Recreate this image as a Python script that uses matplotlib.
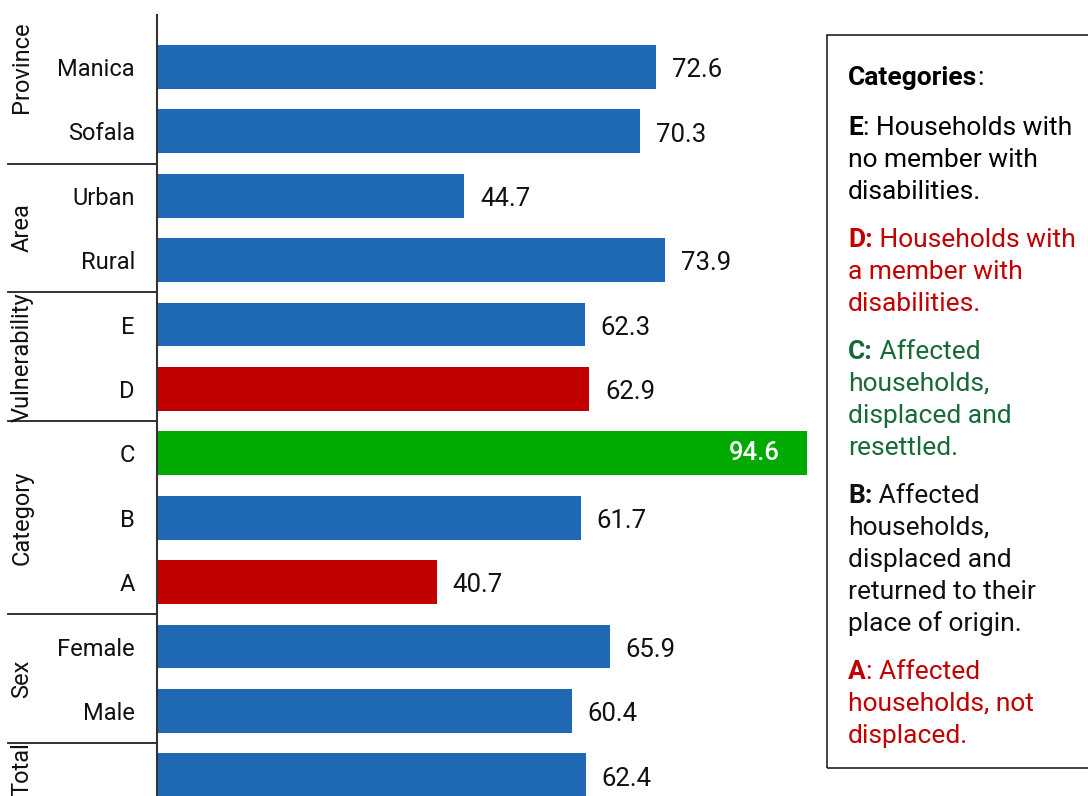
import matplotlib
matplotlib.use("Agg")
from matplotlib import pyplot as plt
from matplotlib.lines import Line2D
from matplotlib.patches import Rectangle
import matplotlib.transforms as mtransforms

plt.rcParams['font.family'] = ['Roboto', 'DejaVu Sans']

# data, top to bottom
labels = ['Manica', 'Sofala', 'Urban', 'Rural', 'E', 'D', 'C', 'B', 'A', 'Female', 'Male', '']
values = [72.6, 70.3, 44.7, 73.9, 62.3, 62.9, 94.6, 61.7, 40.7, 65.9, 60.4, 62.4]
bar_kind = ['n', 'n', 'n', 'n', 'n', 'r', 'g', 'n', 'r', 'n', 'n', 'n']
groups = ['Province', 'Area', 'Vulnerability', 'Category', 'Sex', 'Total']
group_first = [0, 2, 4, 6, 9, 11]
group_last = [1, 3, 5, 8, 10, 11]

BLUE = '#1f69b4'
RED = '#c00000'
GREEN = '#00aa00'
TXT_GREEN = '#17693a'
kind_color = {'n': BLUE, 'r': RED, 'g': GREEN}

W, H = 1088, 796
fig = plt.figure(figsize=(W / 100, H / 100), dpi=100)
ax = fig.add_axes([157 / W, 0, 650 / W, (796 - 15) / H])

ypos = list(range(len(labels)))
ax.barh(ypos, values, height=0.68, color=[kind_color[k] for k in bar_kind])
ax.set_xlim(0, 94.6)
ax.set_ylim(11.32, -0.807)
ax.set_yticks(ypos)
ax.set_yticklabels(labels, fontsize=17, color='#111111')
ax.tick_params(axis='y', length=0, pad=16)
ax.set_xticks([])
for s in ['top', 'right', 'bottom']:
    ax.spines[s].set_visible(False)
ax.spines['left'].set_color('#333333')
ax.spines['left'].set_linewidth(1.5)

# value labels
for y, v in zip(ypos, values):
    if v > 90:
        ax.text(v - 3.9, y, f'{v:.1f}', ha='right', va='center', fontsize=18.5,
                color='white', fontweight='medium')
    else:
        ax.text(v + 2.3, y + 0.05, f'{v:.1f}', ha='left', va='center', fontsize=18.5,
                color='#111111')

# group labels and separators
trans = mtransforms.blended_transform_factory(fig.transFigure, ax.transData)
for name, a, b in zip(groups, group_first, group_last):
    yc = (a + b) / 2
    if name == 'Province':
        yc = a
    if name == 'Total':
        yc -= 0.1
    ax.text(22 / W, yc, name, rotation=90, ha='center', va='center',
            fontsize=17, color='#111111', transform=trans, clip_on=False)
    if a > 0:
        ax.add_line(Line2D([8 / W, 157 / W], [a - 0.5, a - 0.5], transform=trans,
                           color='#222222', lw=1.3, clip_on=False))

# legend box
fig.patches.append(Rectangle((827 / W, 1 - 768 / H), 300 / W, (768 - 35) / H,
                             transform=fig.transFigure, fill=False,
                             edgecolor='#222222', lw=1.2))

paras = [
    ([('Categories', 'bold'), (':', 'normal')], [], 'black'),
    ([('E', 'bold'), (': Households with', 'normal')], ['no member with', 'disabilities.'], 'black'),
    ([('D:', 'bold'), (' Households with', 'normal')], ['a member with', 'disabilities.'], RED),
    ([('C:', 'bold'), (' Affected', 'normal')], ['households,', 'displaced and', 'resettled.'], TXT_GREEN),
    ([('B:', 'bold'), (' Affected', 'normal')], ['households,', 'displaced and', 'returned to their', 'place of origin.'], '#111111'),
    ([('A', 'bold'), (': Affected', 'normal')], ['households, not', 'displaced.'], RED),
]
fs = 19
x0 = 848 / W
ypx = 78
for first, rest, col in paras:
    t = fig.text(x0, 1 - ypx / H, first[0][0], fontweight=first[0][1], color=col,
                 fontsize=fs, va='center', ha='left')
    for s, wgt in first[1:]:
        t = ax.annotate(s, xy=(1, 0), xycoords=t, va='bottom', ha='left',
                        fontsize=fs, fontweight=wgt, color=col, annotation_clip=False)
    for line in rest:
        ypx += 32
        fig.text(x0, 1 - ypx / H, line, color=col, fontsize=fs, va='center', ha='left')
    ypx += 50 if ypx == 78 else 48

fig.savefig('out.png', dpi=100)
